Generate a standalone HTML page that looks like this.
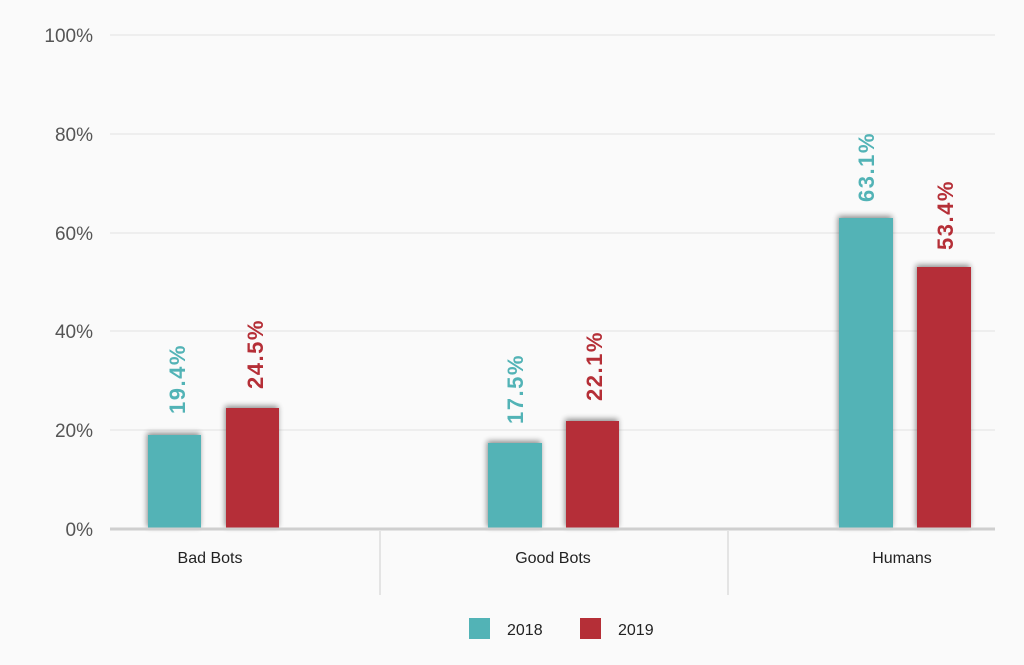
<!DOCTYPE html>
<html><head><meta charset="utf-8"><style>
body{margin:0;background:#fff;}
svg{display:block}
text{font-family:"Liberation Sans",sans-serif}
</style></head><body>
<svg width="1024" height="665" viewBox="0 0 1024 665">
<defs><filter id="s" x="-30%" y="-10%" width="160%" height="120%"><feGaussianBlur in="SourceAlpha" stdDeviation="3"/><feOffset dx="-1" dy="-2"/><feComponentTransfer><feFuncA type="linear" slope="0.45"/></feComponentTransfer><feMerge><feMergeNode/><feMergeNode in="SourceGraphic"/></feMerge></filter></defs>
<rect width="1024" height="665" fill="#fafafa"/>
<g stroke="#e3e3e3" stroke-width="1">
<line x1="110" y1="35" x2="995" y2="35"/><line x1="110" y1="134" x2="995" y2="134"/><line x1="110" y1="233" x2="995" y2="233"/><line x1="110" y1="331" x2="995" y2="331"/><line x1="110" y1="430" x2="995" y2="430"/>
</g>
<g font-size="19" fill="#555" text-anchor="end">
<text x="93" y="42">100%</text><text x="93" y="141">80%</text><text x="93" y="240">60%</text><text x="93" y="338">40%</text><text x="93" y="437">20%</text><text x="93" y="536">0%</text>
</g>
<g filter="url(#s)">
<rect x="148" y="435" width="53" height="94" fill="#52b3b6"/>
<rect x="226" y="408" width="53" height="121" fill="#b52f37"/>
<rect x="488" y="443" width="54" height="86" fill="#52b3b6"/>
<rect x="566" y="421" width="53" height="108" fill="#b52f37"/>
<rect x="839" y="218" width="54" height="311" fill="#52b3b6"/>
<rect x="917" y="267" width="54" height="262" fill="#b52f37"/>
</g>
<line x1="110" y1="529" x2="995" y2="529" stroke="#cfcfcf" stroke-width="3"/>
<line x1="380" y1="531" x2="380" y2="595" stroke="#ddd" stroke-width="1.5"/>
<line x1="728" y1="531" x2="728" y2="595" stroke="#ddd" stroke-width="1.5"/>
<g font-size="22" font-weight="bold" letter-spacing="1.5">
<text transform="translate(185,414) rotate(-90)" fill="#52b3b6">19.4%</text>
<text transform="translate(263,389) rotate(-90)" fill="#b52f37">24.5%</text>
<text transform="translate(523,424) rotate(-90)" fill="#52b3b6">17.5%</text>
<text transform="translate(602,401) rotate(-90)" fill="#b52f37">22.1%</text>
<text transform="translate(874,202) rotate(-90)" fill="#52b3b6">63.1%</text>
<text transform="translate(953,250) rotate(-90)" fill="#b52f37">53.4%</text>
</g>
<g font-size="16" fill="#222" text-anchor="middle">
<text x="210" y="563">Bad Bots</text><text x="553" y="563">Good Bots</text><text x="902" y="563">Humans</text>
</g>
<rect x="469" y="618" width="21" height="21" fill="#52b3b6"/>
<text x="507" y="635" font-size="16" fill="#222">2018</text>
<rect x="580" y="618" width="21" height="21" fill="#b52f37"/>
<text x="618" y="635" font-size="16" fill="#222">2019</text>
</svg>
</body></html>
